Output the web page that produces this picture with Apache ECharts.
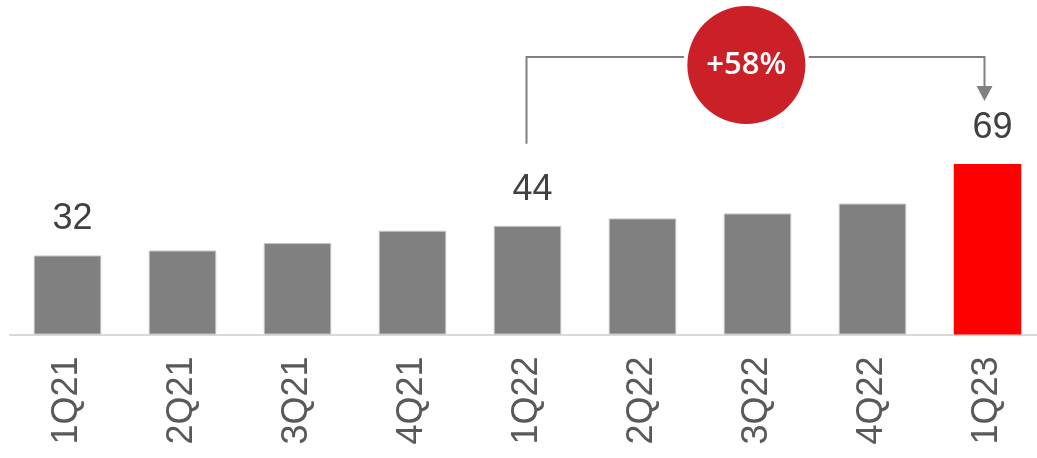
<!DOCTYPE html>
<html>
<head>
<meta charset="utf-8">
<script src="https://cdn.jsdelivr.net/npm/echarts@6/dist/echarts.min.js"></script>
<style>
  html, body { margin: 0; padding: 0; background: #ffffff; overflow: hidden; }
  #chart { width: 1045px; height: 458px; }
</style>
</head>
<body>
<div id="chart"></div>
<script>
// ---- data ----
const categories = ['1Q21', '2Q21', '3Q21', '4Q21', '1Q22', '2Q22', '3Q22', '4Q22', '1Q23'];
const values = [32, 34, 37, 42, 44, 47, 49, 53, 69];
const labelledCategories = ['1Q21', '1Q22', '1Q23'];
const highlightCategory = '1Q23';
const growthFrom = '1Q22';
const growthTo = '1Q23';
const growthText = '+58%';

// ---- styles ----
const GREY = '#808080';
const RED = '#ff0000';
const CIRCLE_RED = '#cc2029';
const FONT = '"Liberation Sans", Arial, sans-serif';

const chart = echarts.init(document.getElementById('chart'), null, { renderer: 'canvas' });

const barData = values.map((v, i) => {
  const cat = categories[i];
  const isHi = cat === highlightCategory;
  return {
    value: v,
    itemStyle: isHi
      ? { color: RED, borderWidth: 0 }
      : { color: GREY, borderColor: '#c4c4c4', borderWidth: 1 },
    label: { show: labelledCategories.includes(cat) }
  };
});

chart.setOption({
  animation: false,
  backgroundColor: '#ffffff',
  grid: { left: 10, right: 0, top: 87.5, bottom: 123.5, containLabel: false, outerBoundsMode: 'none' },
  xAxis: {
    type: 'category',
    data: categories,
    axisLine: { show: true, lineStyle: { color: '#d9d9d9', width: 2 } },
    axisTick: { show: false },
    axisLabel: {
      rotate: 90,
      margin: 22,
      fontSize: 36,
      color: '#595959',
      fontFamily: FONT
    },
    splitLine: { show: false }
  },
  yAxis: {
    type: 'value',
    min: 0,
    max: 100,
    show: false
  },
  series: [{
    type: 'bar',
    data: barData,
    barWidth: '58.7%',
    label: {
      show: false,
      position: 'top',
      distance: 18,
      offset: [5, 0],
      fontSize: 36,
      color: '#404040',
      fontFamily: FONT
    }
  }]
});

// ---- growth annotation, positioned from the axis scale ----
function drawAnnotation() {
  const iFrom = categories.indexOf(growthFrom);
  const iTo = categories.indexOf(growthTo);
  const pFrom = chart.convertToPixel({ gridIndex: 0 }, [iFrom, values[iFrom]]);
  const pTo = chart.convertToPixel({ gridIndex: 0 }, [iTo, values[iTo]]);
  const x1 = pFrom[0] - 1;
  const x2 = pTo[0] - 3;
  const yTop = 57;
  const yLeftBottom = pFrom[1] - 82;
  const tipY = pTo[1] - 63;
  const headH = 15, headW = 8;
  const cx = x1 + (x2 - x1) * 0.48;
  const cy = 65;
  const r = 59;

  chart.setOption({
    graphic: [
      { type: 'polyline', shape: { points: [[x1, yLeftBottom], [x1, yTop], [x2, yTop], [x2, tipY - headH]] },
        style: { stroke: GREY, lineWidth: 2, fill: null }, z: 10 },
      { type: 'polygon', shape: { points: [[x2 - headW, tipY - headH], [x2 + headW, tipY - headH], [x2, tipY]] },
        style: { fill: GREY }, z: 10 },
      { type: 'circle', shape: { cx: cx, cy: cy, r: r + 4 }, style: { fill: '#ffffff' }, z: 11 },
      { type: 'circle', shape: { cx: cx, cy: cy, r: r }, style: { fill: CIRCLE_RED }, z: 12 },
      { type: 'text', x: cx, y: cy, z: 13,
        style: { text: growthText, fill: '#ffffff', fontSize: 31, fontWeight: 600, fontFamily: '"Open Sans", ' + FONT,
                 align: 'center', verticalAlign: 'middle' } }
    ]
  });
}
drawAnnotation();
</script>
</body>
</html>
